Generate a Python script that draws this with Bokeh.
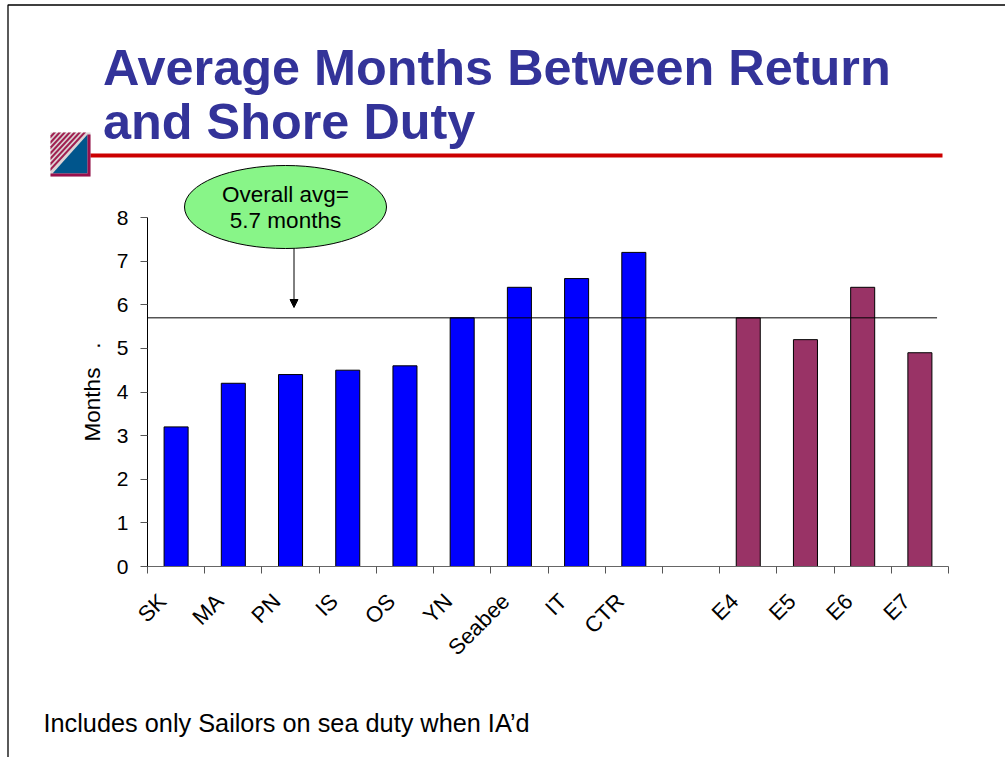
from bokeh.plotting import figure
from bokeh.embed import file_html
from bokeh.resources import INLINE
from bokeh.layouts import column
from bokeh.core.properties import value
from bokeh.models import Range1d, FixedTicker, Arrow, NormalHead

categories = ["SK", "MA", "PN", "IS", "OS", "YN", "Seabee", "IT", "CTR", "", "E4", "E5", "E6", "E7"]
rating_values = [3.2, 4.2, 4.4, 4.5, 4.6, 5.7, 6.4, 6.6, 7.2]
paygrade_values = [5.7, 5.2, 6.4, 4.9]
overall_avg = 5.7
y_ticks = [0, 1, 2, 3, 4, 5, 6, 7, 8]
title_lines = ["Average Months Between Return", "and Shore Duty"]
callout_lines = ["Overall avg=", "5.7 months"]
footnote = "Includes only Sailors on sea duty when IA\u2019d"

W, H = 1005, 757
L, R, T, B = 147, 948, 217, 566
FONT = "Liberation Sans"
n = len(categories)

# ---------- slide background: pixel-scaled figure ----------
bg = figure(width=W, height=H, output_backend="svg", toolbar_location=None,
            x_range=Range1d(0, W), y_range=Range1d(H, 0),
            x_axis_location=None, y_axis_location=None,
            min_border=0, outline_line_color=None, frame_align=False)
bg.grid.visible = False

# slide frame
bg.line([7.5, 7.5, W], [H, 4.5, 4.5], line_color="black", line_width=1.3)

# title
bg.text([102.5] * 2, [67, 121], text=title_lines, text_align="left", text_baseline="alphabetic",
        text_font=value(FONT), text_font_style="bold", text_font_size="50.4px", text_color="#333399")

# rule
bg.quad(left=[89], right=[942], top=[153], bottom=[157], fill_color="#CC0000", line_color=None)

# logo
bg.quad(left=[50], right=[90], top=[132], bottom=[176], fill_color="#DCD4D6", line_color=None)
sx, sy = [], []
for k in range(7):
    s1 = (k + 0.55) / 7.4
    s2 = s1 + 0.075
    sx.append([50, 50, 50 + 37 * s2, 50 + 37 * s1])
    sy.append([132 + 40 * s1, 132 + 40 * s2, 132, 132])
bg.patches(sx, sy, fill_color="#A01F50", line_color=None)
bg.patch([87, 87, 52], [134, 173, 173], fill_color="#00558C", line_color=None)
bg.patch([87, 90, 90, 50, 50, 87], [134, 134, 176, 176, 173, 173], fill_color="#99104D", line_color=None)

# callout
bg.ellipse([285], [206.5], width=[202], height=[83], fill_color="#88F588", line_color="black", line_width=1)
bg.text([285] * 2, [194, 220], text=callout_lines, text_align="center", text_baseline="middle",
        text_font=value(FONT), text_font_size="22.5px", text_color="black")
bg.add_layout(Arrow(x_start=293.5, y_start=248, x_end=293.5, y_end=307,
                    line_color="black", line_width=1,
                    end=NormalHead(size=8, fill_color="black", line_color="black", line_width=1)))

# footnote
bg.text([43], [722], text=[footnote], text_align="left", text_baseline="alphabetic",
        text_font=value(FONT), text_font_size="25.3px", text_color="black")

# ---------- chart on top ----------
p = figure(width=W, height=H, output_backend="svg", toolbar_location=None,
           x_range=Range1d(0, n), y_range=Range1d(0, 8),
           frame_width=R - L, frame_height=B - T,
           min_border_left=L, min_border_top=T,
           min_border_right=W - R, min_border_bottom=H - B,
           outline_line_color=None, background_fill_color=None, border_fill_color=None,
           margin=(-H, 0, 0, 0), frame_align=False)
p.grid.visible = False

centers = [i + 0.5 for i in range(n)]
bounds = list(range(n + 1))
label_pos = [c - 0.24 for c in centers]
xa = p.xaxis[0]
xa.ticker = FixedTicker(ticks=label_pos, minor_ticks=bounds)
xa.major_label_overrides = {c: name for c, name in zip(label_pos, categories)}
xa.major_label_orientation = 0.785398
xa.major_label_text_font = FONT
xa.major_label_text_font_size = "22px"
xa.major_label_text_color = "black"
xa.major_label_standoff = 24
xa.major_tick_out = 0
xa.major_tick_in = 0
xa.minor_tick_out = 7
xa.minor_tick_in = 0
xa.minor_tick_line_color = "#555555"
xa.axis_line_color = "#666666"

ya = p.yaxis[0]
ya.ticker = FixedTicker(ticks=y_ticks)
ya.minor_tick_line_color = None
ya.major_tick_out = 7
ya.major_tick_in = 0
ya.major_tick_line_color = "#555555"
ya.axis_line_color = "black"
ya.major_label_text_font = FONT
ya.major_label_text_font_size = "21px"
ya.major_label_text_color = "black"
ya.major_label_standoff = 12
ya.axis_label = "Months\u00a0\u00a0\u00a0."
ya.axis_label_text_font = FONT
ya.axis_label_text_font_style = "normal"
ya.axis_label_text_font_size = "22.5px"
ya.axis_label_text_color = "black"
ya.axis_label_standoff = 9

bar_w = 0.42
p.vbar(x=centers[:len(rating_values)], top=rating_values, width=bar_w, bottom=0,
       fill_color="#0000FF", line_color="black", line_width=1)
p.vbar(x=centers[-len(paygrade_values):], top=paygrade_values, width=bar_w, bottom=0,
       fill_color="#993366", line_color="black", line_width=1)
p.line([0, 13.8], [overall_avg, overall_avg], line_color="black", line_width=1)

open("out.html", "w").write(file_html(column(bg, p, spacing=0), INLINE))
